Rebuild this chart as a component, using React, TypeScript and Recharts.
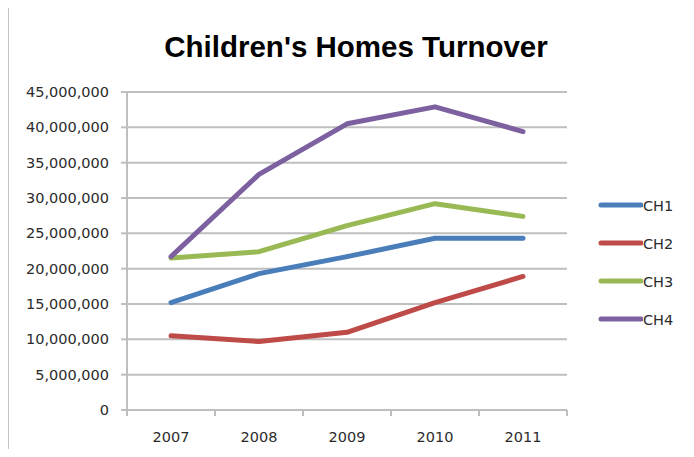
import React from 'react';
import { LineChart, Line, XAxis, YAxis, CartesianGrid } from 'recharts';

const years = ['2007', '2008', '2009', '2010', '2011'];
const ch1 = [15200000, 19300000, 21700000, 24300000, 24300000];
const ch2 = [10500000, 9700000, 11000000, 15200000, 18900000];
const ch3 = [21500000, 22400000, 26100000, 29200000, 27400000];
const ch4 = [21700000, 33350000, 40500000, 42900000, 39400000];
const yTicks = [0, 5000000, 10000000, 15000000, 20000000, 25000000, 30000000, 35000000, 40000000, 45000000];

const series = [
  { key: 'CH1', values: ch1, color: '#4A7EBB' },
  { key: 'CH2', values: ch2, color: '#BE4B48' },
  { key: 'CH3', values: ch3, color: '#98B954' },
  { key: 'CH4', values: ch4, color: '#7D60A0' },
];

const data = years.map((year, i) => {
  const row: Record<string, string | number> = { year };
  series.forEach(s => {
    row[s.key] = s.values[i];
  });
  return row;
});

const AXIS_COLOR = '#BFBFBF';
const LABEL_FONT = '"DejaVu Sans", sans-serif';

// category ticks sit between the bands, labels in the middle
const YearTick = (props: any) => {
  const { x, y, payload, index, visibleTicksCount } = props;
  const half = payload && payload.offset ? payload.offset : 44;
  const last = index === (visibleTicksCount ?? years.length) - 1;
  return (
    <g>
      <line x1={x - half} y1={y} x2={x - half} y2={y + 6} stroke={AXIS_COLOR} strokeWidth={2} />
      {last && (
        <line x1={x + half} y1={y} x2={x + half} y2={y + 6} stroke={AXIS_COLOR} strokeWidth={2} />
      )}
      <text x={x} y={y + 32} textAnchor="middle" fill="#2b2b2b" fontSize={14.5} fontFamily={LABEL_FONT}>
        {payload.value}
      </text>
    </g>
  );
};

const App = () => {
  return (
    <div style={{ position: 'relative', width: 694, height: 457, margin: -8, background: '#fff', overflow: 'hidden' }}>
      <div
        style={{
          position: 'absolute',
          left: 7,
          top: 3,
          width: 700,
          height: 470,
          borderLeft: '2px solid #C4C4C4',
          borderTop: '2px solid #C4C4C4',
        }}
      />
      <div
        style={{
          position: 'absolute',
          left: 0,
          top: 30,
          width: 712,
          textAlign: 'center',
          fontFamily: '"Liberation Sans", Arial, sans-serif',
          fontWeight: 'bold',
          fontSize: 29.5,
          color: '#000',
        }}
      >
        Children's Homes Turnover
      </div>
      <div style={{ position: 'absolute', left: 0, top: 0 }}>
        <LineChart width={694} height={457} data={data} margin={{ top: 92, right: 127, bottom: 17, left: 0 }}>
          <CartesianGrid vertical={false} stroke={AXIS_COLOR} strokeWidth={2} />
          <XAxis
            dataKey="year"
            scale="band"
            height={30}
            axisLine={{ stroke: AXIS_COLOR, strokeWidth: 2 }}
            tickLine={false}
            tickSize={0}
            tickMargin={0}
            interval={0}
            tick={<YearTick />}
          />
          <YAxis
            width={127}
            domain={[0, 45000000]}
            ticks={yTicks}
            interval={0}
            axisLine={{ stroke: AXIS_COLOR, strokeWidth: 2 }}
            tickLine={{ stroke: AXIS_COLOR, strokeWidth: 2 }}
            tickSize={6}
            tickMargin={12}
            tick={{ fill: '#2b2b2b', fontSize: 14.5, fontFamily: LABEL_FONT }}
            tickFormatter={(v: number) => v.toLocaleString('en-US')}
          />
          {series.map(s => (
            <Line
              key={s.key}
              type="linear"
              dataKey={s.key}
              stroke={s.color}
              strokeWidth={5}
              strokeLinecap="round"
              strokeLinejoin="round"
              dot={false}
              activeDot={false}
              isAnimationActive={false}
            />
          ))}
        </LineChart>
      </div>
      <div style={{ position: 'absolute', left: 597, top: 186 }}>
        {series.map(s => (
          <div key={s.key} style={{ display: 'flex', alignItems: 'center', height: 38 }}>
            <svg width={46} height={20}>
              <line x1={4} y1={10} x2={44} y2={10} stroke={s.color} strokeWidth={5} strokeLinecap="round" />
            </svg>
            <span style={{ fontFamily: LABEL_FONT, fontSize: 14.5, color: '#2b2b2b', marginTop: 2 }}>{s.key}</span>
          </div>
        ))}
      </div>
    </div>
  );
};

export default App;
